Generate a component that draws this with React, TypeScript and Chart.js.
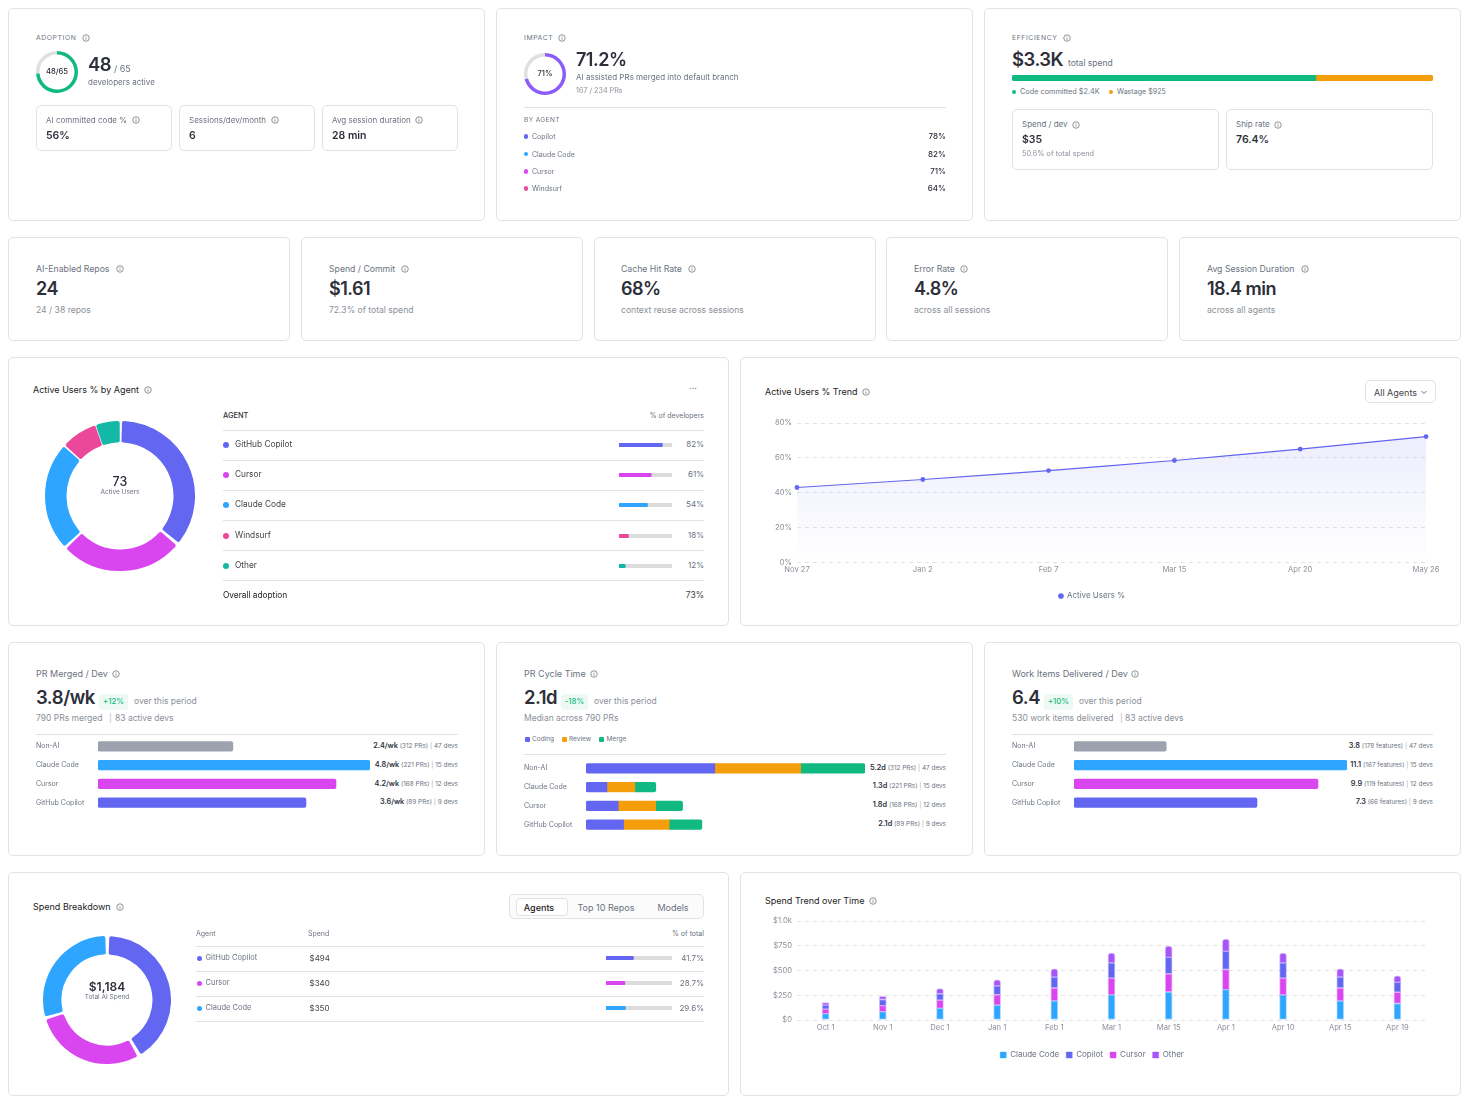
import React, { useEffect, useRef } from "react";
import { Chart, registerables } from "chart.js";

Chart.register(...registerables);
Chart.defaults.font.family = "Inter";

const INK = "#2d2f3a", GREY = "#6b7280", SOFT = "#8b9099", LINE = "#e2e2e2", TRACK = "#dcdcdc";
const COPILOT = "#6366f1", CURSOR = "#d946ef", CLAUDE = "#2ea6ff", WINDSURF = "#ec4899", TEAL = "#14b8a6";
const VIOLET = "#a855f7", GREEN = "#10b981", AMBER = "#f59e0b", NONAI = "#9ca3af", GAUGE = "#8b5cf6";

const adoptionGauge = [48, 17];
const impactGauge = [71.2, 28.8];
const spendSplit = [2400, 925];

const impactAgents = ["Copilot", "Claude Code", "Cursor", "Windsurf"];
const impactValues = ["78%", "82%", "71%", "64%"];
const impactColors = [COPILOT, CLAUDE, CURSOR, WINDSURF];

const activeAgents = ["GitHub Copilot", "Cursor", "Claude Code", "Windsurf", "Other"];
const activeValues = [82, 61, 54, 18, 12];
const activeColors = [COPILOT, CURSOR, CLAUDE, WINDSURF, TEAL];

const trendLabels = ["Nov 27", "Jan 2", "Feb 7", "Mar 15", "Apr 20", "May 26"];
const trendValues = [43, 47.6, 52.7, 58.5, 65, 72.2];

const rowAgents = ["Non-AI", "Claude Code", "Cursor", "GitHub Copilot"];
const prBars = [2.38, 4.8, 4.2, 3.67];
const prBarColors = [NONAI, CLAUDE, CURSOR, COPILOT];
const prMain = ["2.4/wk", "4.8/wk", "4.2/wk", "3.6/wk"];
const prMid = ["(312 PRs)", "(221 PRs)", "(168 PRs)", "(89 PRs)"];
const devCounts = ["47 devs", "15 devs", "12 devs", "9 devs"];

const cycleCoding = [2.4, 0.39, 0.6, 0.7];
const cycleReview = [1.6, 0.52, 0.7, 0.85];
const cycleMerge = [1.2, 0.39, 0.5, 0.61];
const cycleMain = ["5.2d", "1.3d", "1.8d", "2.1d"];

const workBars = [3.75, 11.1, 9.92, 7.44];
const workMain = ["3.8", "11.1", "9.9", "7.3"];
const workMid = ["(178 features)", "(167 features)", "(119 features)", "(66 features)"];

const spendAgents = ["GitHub Copilot", "Cursor", "Claude Code"];
const spendValues = [494, 340, 350];
const spendPct = [41.7, 28.7, 29.6];
const spendColors = [COPILOT, CURSOR, CLAUDE];

const spendMonths = ["Oct 1", "Nov 1", "Dec 1", "Jan 1", "Feb 1", "Mar 1", "Mar 15", "Apr 1", "Apr 10", "Apr 15", "Apr 19"];
const spendClaude = [65, 85, 117, 150, 193, 253, 283, 307, 253, 193, 167];
const spendCursor = [45, 60, 83, 105, 130, 170, 184, 203, 170, 130, 113];
const spendCopilot = [40, 62, 65, 90, 110, 154, 166, 183, 154, 110, 100];
const spendOther = [27, 33, 52, 62, 84, 100, 114, 124, 100, 84, 67];

function Plot({ x, y, w, h, config }: any) {
  const ref = useRef<HTMLCanvasElement>(null);
  useEffect(() => {
    const c = new Chart(ref.current as any, config);
    return () => c.destroy();
  }, []);
  return <canvas ref={ref} width={w} height={h} style={{ position: "absolute", left: x, top: y, width: w, height: h }} />;
}

function T({ x, y, right, center, size = 8, color = GREY, weight = 400, ls, children }: any) {
  const s: any = {
    position: "absolute", top: y, fontSize: size, color, fontWeight: weight, whiteSpace: "nowrap",
    lineHeight: 1, letterSpacing: ls, transform: center != null ? "translate(-50%,-50%)" : "translateY(-50%)",
  };
  if (right != null) s.right = 1467 - right;
  else if (center != null) s.left = center;
  else s.left = x;
  return <div style={s}>{children}</div>;
}

function Box({ x, y, x2, y2, r = 5, color = LINE, bg = "#fff" }: any) {
  return <div style={{ position: "absolute", left: x, top: y, width: x2 - x, height: y2 - y, boxSizing: "border-box", border: `1px solid ${color}`, borderRadius: r, background: bg }} />;
}

function Rule({ x, x2, y }: any) {
  return <div style={{ position: "absolute", left: x, top: y, width: x2 - x, height: 1, background: "#e3e3e3" }} />;
}

function Dot({ x, y, d = 5, color, square }: any) {
  return <div style={{ position: "absolute", left: x - d / 2, top: y - d / 2, width: d, height: d, borderRadius: square ? 1 : "50%", background: color }} />;
}

function Info({ x, y, d = 8 }: any) {
  return (
    <svg width={d} height={d} viewBox="0 0 16 16" style={{ position: "absolute", left: x - d / 2, top: y - d / 2 }}>
      <circle cx="8" cy="8" r="6.5" fill="none" stroke="#666" strokeWidth="1.4" />
      <line x1="8" y1="7" x2="8" y2="11.5" stroke="#666" strokeWidth="1.4" />
      <circle cx="8" cy="4.8" r="0.9" fill="#666" />
    </svg>
  );
}

const quiet = { legend: { display: false }, tooltip: { enabled: false } };

function ring(data: number[], colors: string[], cut: number, spacing = 0, radius = 0) {
  return {
    type: "doughnut",
    data: { datasets: [{ data, backgroundColor: colors, borderWidth: 0, spacing, borderRadius: radius }] },
    options: { responsive: false, animation: false, cutout: cut, plugins: quiet, layout: { padding: 0 } },
  };
}

function mini(value: number, color: string) {
  return {
    type: "bar",
    data: {
      labels: [""],
      datasets: [
        { data: [value], backgroundColor: color, order: 0, borderRadius: 2, borderSkipped: false },
        { data: [100], backgroundColor: TRACK, order: 1, borderRadius: 2, borderSkipped: false },
      ],
    },
    options: {
      indexAxis: "y", responsive: false, animation: false, plugins: quiet,
      datasets: { bar: { grouped: false, barPercentage: 1, categoryPercentage: 1 } },
      scales: { x: { display: false, min: 0, max: 100 }, y: { display: false } },
    },
  };
}

function hbars(datasets: any[], labels: string[], max: number, thick: number) {
  return {
    type: "bar",
    data: { labels, datasets: datasets.map((d) => ({ barThickness: thick, ...d })) },
    options: {
      indexAxis: "y", responsive: false, animation: false, plugins: quiet, layout: { padding: 0 },
      scales: {
        x: { display: false, min: 0, max, stacked: true },
        y: {
          stacked: true, grid: { display: false }, border: { display: false },
          ticks: { crossAlign: "far", padding: 0, color: GREY, font: { size: 7 }, autoSkip: false },
          afterFit: (s: any) => { s.width = 62; s.paddingTop = 0; s.paddingBottom = 0; },
        },
      },
    },
  };
}

const splitConfig = {
  type: "bar",
  data: {
    labels: [""],
    datasets: [
      { data: [spendSplit[0]], backgroundColor: GREEN, borderSkipped: false, borderRadius: { topLeft: 3, bottomLeft: 3 } },
      { data: [spendSplit[1]], backgroundColor: AMBER, borderSkipped: false, borderRadius: { topRight: 3, bottomRight: 3 } },
    ],
  },
  options: {
    indexAxis: "y", responsive: false, animation: false, plugins: quiet,
    datasets: { bar: { barPercentage: 1, categoryPercentage: 1 } },
    scales: { x: { display: false, stacked: true, min: 0, max: spendSplit[0] + spendSplit[1] }, y: { display: false, stacked: true } },
  },
};

const axisX = (height: number) => ({
  grid: { display: false, drawTicks: false }, border: { display: false },
  ticks: { color: SOFT, font: { size: 7.6 }, maxRotation: 0, autoSkip: false, padding: 3 },
  afterFit: (s: any) => { s.height = height; s.paddingLeft = 0; s.paddingRight = 0; },
});
const axisY = (extra: any, tick: any) => ({
  ...extra,
  grid: { color: "#e4e4e4", drawTicks: false },
  border: { display: false, dash: [4, 4] },
  ticks: { ...extra.ticks, color: SOFT, font: { size: 7.6 }, padding: 5, callback: tick },
  afterFit: (s: any) => { s.width = 39; s.paddingTop = 0; s.paddingBottom = 0; },
});

const trendConfig = {
  type: "line",
  data: {
    labels: trendLabels,
    datasets: [{
      label: "Active Users %", data: trendValues, borderColor: COPILOT, borderWidth: 1.2, tension: 0.1,
      pointRadius: 2.4, pointBackgroundColor: COPILOT, pointBorderWidth: 0, fill: "origin",
      backgroundColor: (c: any) => {
        const a = c.chart.chartArea;
        if (!a) return "transparent";
        const g = c.chart.ctx.createLinearGradient(0, a.top, 0, a.bottom);
        g.addColorStop(0, "rgba(99,102,241,0.13)");
        g.addColorStop(1, "rgba(99,102,241,0)");
        return g;
      },
    }],
  },
  options: {
    responsive: false, animation: false, layout: { padding: { top: 10, right: 14, left: 0, bottom: 0 } },
    plugins: {
      tooltip: { enabled: false },
      legend: {
        position: "bottom",
        labels: {
          usePointStyle: true, boxWidth: 4, boxHeight: 4, padding: 14.5, color: GREY, font: { size: 8 },
          generateLabels: (ch: any) => (Chart.defaults.plugins.legend.labels as any).generateLabels(ch).map((l: any) => ({ ...l, fillStyle: COPILOT, strokeStyle: COPILOT, lineWidth: 0 })),
        },
      },
    },
    scales: {
      x: axisX(15),
      y: axisY({ min: 0, max: 80, ticks: { stepSize: 20 } }, (v: number) => v + "%"),
    },
  },
};

const seg = (label: string, data: number[], color: string, radius: any = 0) => ({
  label, data, backgroundColor: color, borderColor: color + "66", borderWidth: 1, borderSkipped: false, borderRadius: radius, barThickness: 7,
});

const spendConfig = {
  type: "bar",
  data: {
    labels: spendMonths,
    datasets: [
      seg("Claude Code", spendClaude, CLAUDE),
      seg("Cursor", spendCursor, CURSOR),
      seg("Copilot", spendCopilot, COPILOT),
      seg("Other", spendOther, VIOLET, { topLeft: 3, topRight: 3 }),
    ],
  },
  options: {
    responsive: false, animation: false, layout: { padding: { top: 8, right: 14, left: 0, bottom: 0 } },
    plugins: {
      tooltip: { enabled: false },
      legend: {
        position: "bottom",
        labels: {
          boxWidth: 6, boxHeight: 6, padding: 7, color: GREY, font: { size: 8 },
          sort: (a: any, b: any) => [0, 2, 1, 3][a.datasetIndex] - [0, 2, 1, 3][b.datasetIndex],
        },
      },
    },
    scales: {
      x: { ...axisX(24), stacked: true },
      y: axisY({ min: 0, max: 1000, stacked: true, ticks: { stepSize: 250 } }, (v: number) => (v === 1000 ? "$1.0k" : "$" + v)),
    },
  },
};

function Row3Text({ right, y, main, mid, dev }: any) {
  return (
    <T right={right} y={y} size={6.4} color={GREY}>
      <span style={{ fontSize: 7.3, fontWeight: 600, color: INK }}>{main}</span>
      <span> {mid} </span><span style={{ color: "#aaa" }}>|</span><span> {dev}</span>
    </T>
  );
}

function Head({ x, title, iconX, value, badge, badgeX, badgeW = 29, overX, sub }: any) {
  return (
    <>
      <T x={x} y={673} size={9} color={GREY}>{title}</T>
      <Info x={iconX} y={674} />
      <T x={x} y={697} size={18.5} ls={-0.5} weight={600} color={INK}>{value}</T>
      <div style={{ position: "absolute", left: badgeX, top: 694, width: badgeW, height: 15.5, borderRadius: 3, background: "#eef9f4" }} />
      <T center={badgeX + badgeW / 2} y={701.5} size={7.8} weight={500} color={GREEN}>{badge}</T>
      <T x={overX} y={701} size={8.5} color={SOFT}>over this period</T>
      {sub}
    </>
  );
}

function App() {
  return (
    <div style={{ position: "absolute", left: 0, top: 0, width: 1467, height: 1102, background: "#fff", overflow: "hidden", fontFamily: "Inter" }}>
      {/* row 1 */}
      <Box x={8} y={8} x2={485} y2={221} />
      <Box x={496} y={8} x2={973} y2={221} />
      <Box x={984} y={8} x2={1461} y2={221} />

      <T x={36} y={37.5} size={6.8} ls={0.6}>ADOPTION</T>
      <Info x={86} y={38} />
      <Plot x={36} y={51} w={42} h={42} config={ring(adoptionGauge, [GREEN, "#e0e0e0"], 17.5)} />
      <T center={57} y={72} size={7.6} weight={500} color={INK}>48/65</T>
      <T x={88} y={64} size={18.5} ls={-0.5} weight={600} color={INK}>48</T>
      <T x={114} y={68} size={9}>/ 65</T>
      <T x={88} y={82} size={8}>developers active</T>
      {[["AI committed code %", "56%", 36, 172, 136], ["Sessions/dev/month", "6", 179, 315, 275], ["Avg session duration", "28 min", 322, 458, 419]].map((b: any) => (
        <React.Fragment key={b[0]}>
          <Box x={b[2]} y={105} x2={b[3]} y2={151} />
          <T x={b[2] + 10} y={120} size={8}>{b[0]}</T>
          <Info x={b[4]} y={120} />
          <T x={b[2] + 10} y={135.5} size={10.5} weight={600} color={INK}>{b[1]}</T>
        </React.Fragment>
      ))}

      <T x={524} y={37.5} size={6.8} ls={0.6}>IMPACT</T>
      <Info x={562} y={38} />
      <Plot x={524} y={53} w={42} h={42} config={ring(impactGauge, [GAUGE, "#e0e0e0"], 17.5)} />
      <T center={545} y={74} size={7.6} weight={500} color={INK}>71%</T>
      <T x={576} y={60} size={18} ls={-0.5} weight={600} color={INK}>71.2%</T>
      <T x={576} y={77} size={8}>AI assisted PRs merged into default branch</T>
      <T x={576} y={90.5} size={7.2} color={SOFT}>167 / 234 PRs</T>
      <Rule x={524} x2={946} y={107} />
      <T x={524} y={119.5} size={6.5} ls={0.4}>BY AGENT</T>
      {impactAgents.map((a, i) => {
        const y = [136, 153.5, 171, 188][i];
        return (
          <React.Fragment key={a}>
            <Dot x={526} y={y + 0.5} d={4.5} color={impactColors[i]} />
            <T x={532} y={y} size={7}>{a}</T>
            <T right={946} y={y} size={8} weight={500} color={INK}>{impactValues[i]}</T>
          </React.Fragment>
        );
      })}

      <T x={1012} y={37.5} size={6.8} ls={0.6}>EFFICIENCY</T>
      <Info x={1067} y={38} />
      <T x={1012} y={59} size={18.5} ls={-0.5} weight={600} color={INK}>$3.3K</T>
      <T x={1068} y={63} size={8.5}>total spend</T>
      <Plot x={1012} y={75} w={421} h={6} config={splitConfig} />
      <Dot x={1014} y={92} d={4.5} color={GREEN} />
      <T x={1020} y={91.5} size={7.3}>Code committed $2.4K</T>
      <Dot x={1111} y={92} d={4.5} color={AMBER} />
      <T x={1117} y={91.5} size={7.1}>Wastage $925</T>
      <Box x={1012} y={109} x2={1219} y2={170} />
      <T x={1022} y={124} size={8}>Spend / dev</T>
      <Info x={1076} y={124.5} />
      <T x={1022} y={139.5} size={10.5} weight={600} color={INK}>$35</T>
      <T x={1022} y={154} size={7.3} color={SOFT}>50.6% of total spend</T>
      <Box x={1226} y={109} x2={1433} y2={170} />
      <T x={1236} y={124} size={8}>Ship rate</T>
      <Info x={1278} y={124.5} />
      <T x={1236} y={139.5} size={10.5} weight={600} color={INK}>76.4%</T>

      {/* row 2 */}
      {[[8, 290, "AI-Enabled Repos", 120, "24", "24 / 38 repos", 36], [301, 583, "Spend / Commit", 405, "$1.61", "72.3% of total spend", 329], [594, 876, "Cache Hit Rate", 692, "68%", "context reuse across sessions", 621], [886, 1168, "Error Rate", 964, "4.8%", "across all sessions", 914], [1179, 1461, "Avg Session Duration", 1305, "18.4 min", "across all agents", 1207]].map((c: any) => (
        <React.Fragment key={c[2]}>
          <Box x={c[0]} y={237} x2={c[1]} y2={341} />
          <T x={c[6]} y={268.5} size={8.7}>{c[2]}</T>
          <Info x={c[3]} y={268.5} />
          <T x={c[6]} y={288.5} size={18} ls={-0.5} weight={600} color={INK}>{c[4]}</T>
          <T x={c[6]} y={310} size={8.6} color={SOFT}>{c[5]}</T>
        </React.Fragment>
      ))}

      {/* row 3 */}
      <Box x={8} y={357} x2={729} y2={626} />
      <T x={33} y={388.5} size={9} color="#222">Active Users % by Agent</T>
      <Info x={147.5} y={389.5} />
      <T center={693} y={388} size={9} color={GREY}>···</T>
      <Plot x={45} y={421} w={150} h={150} config={ring(activeValues, activeColors, 52, 3, 2)} />
      <T center={120} y={482} size={12.5} weight={500} color={INK}>73</T>
      <T center={120} y={492} size={6.5}>Active Users</T>
      <T x={223} y={415.5} size={7.4} weight={500} color="#333">AGENT</T>
      <T right={704} y={415} size={7} color={GREY}>% of developers</T>
      {[430, 460, 490, 520, 550, 580].map((y) => <Rule key={y} x={223} x2={704} y={y} />)}
      {activeAgents.map((a, i) => {
        const y = [444, 474, 504, 535, 565][i];
        return (
          <React.Fragment key={a}>
            <Dot x={226} y={y + 0.5} d={6} color={activeColors[i]} />
            <T x={235} y={y} size={8.3} color="#444">{a}</T>
            <Plot x={619} y={y - 1} w={53} h={4} config={mini(activeValues[i], activeColors[i])} />
            <T right={704} y={y} size={8}>{activeValues[i]}%</T>
          </React.Fragment>
        );
      })}
      <T x={223} y={595} size={8.3} color="#222">Overall adoption</T>
      <T right={704} y={595} size={8.5} color="#444">73%</T>

      <Box x={740} y={357} x2={1461} y2={626} />
      <T x={765} y={391} size={9} color="#222">Active Users % Trend</T>
      <Info x={866} y={392} />
      <Box x={1365} y={380} x2={1436} y2={403} />
      <T x={1374} y={391.5} size={9} color="#444">All Agents</T>
      <svg width="8" height="8" viewBox="0 0 8 8" style={{ position: "absolute", left: 1420, top: 388 }}>
        <path d="M1.5 3 L4 5.5 L6.5 3" fill="none" stroke="#666" strokeWidth="0.9" />
      </svg>
      <Plot x={758} y={413} w={682} h={197} config={trendConfig} />

      {/* row 4 */}
      <Box x={8} y={642} x2={485} y2={856} />
      <Head x={36} title="PR Merged / Dev" iconX={116} value="3.8/wk" badge="+12%" badgeX={99} overX={134}
        sub={<><T x={36} y={718} size={8.5} color={SOFT}>790 PRs merged</T><T x={109} y={718} size={8.5} color="#bbb">|</T><T x={115} y={718} size={8.5} color={SOFT}>83 active devs</T></>} />
      <Rule x={36} x2={458} y={734} />
      <Plot x={36} y={737} w={334} h={75} config={hbars([{ data: prBars, backgroundColor: prBarColors, borderRadius: 2, borderSkipped: false }], rowAgents, 4.8, 9.5)} />
      {rowAgents.map((a, i) => <Row3Text key={a} right={458} y={[746, 765, 784, 802][i]} main={prMain[i]} mid={prMid[i]} dev={devCounts[i]} />)}

      <Box x={496} y={642} x2={973} y2={856} />
      <Head x={524} title="PR Cycle Time" iconX={594} value="2.1d" badge="-18%" badgeX={561} badgeW={27} overX={594}
        sub={<T x={524} y={718} size={8.5} color={SOFT}>Median across 790 PRs</T>} />
      <Dot x={527} y={739} d={5} color={COPILOT} square />
      <T x={532} y={738.5} size={6.5}>Coding</T>
      <Dot x={564} y={739} d={5} color={AMBER} square />
      <T x={569} y={738.5} size={6.5}>Review</T>
      <Dot x={601} y={739} d={5} color={GREEN} square />
      <T x={606.5} y={738.5} size={6.5}>Merge</T>
      <Rule x={524} x2={946} y={754} />
      <Plot x={524} y={758.5} w={341} h={75} config={hbars([
        { data: cycleCoding, backgroundColor: COPILOT, borderSkipped: false, borderRadius: { topLeft: 2, bottomLeft: 2 } },
        { data: cycleReview, backgroundColor: AMBER },
        { data: cycleMerge, backgroundColor: GREEN, borderSkipped: false, borderRadius: { topRight: 2, bottomRight: 2 } },
      ], rowAgents, 5.2, 9.5)} />
      {rowAgents.map((a, i) => <Row3Text key={a} right={946} y={[768, 786, 805, 824][i]} main={cycleMain[i]} mid={prMid[i]} dev={devCounts[i]} />)}

      <Box x={984} y={642} x2={1461} y2={856} />
      <Head x={1012} title="Work Items Delivered / Dev" iconX={1135} value="6.4" badge="+10%" badgeX={1044} overX={1079}
        sub={<><T x={1012} y={718} size={8.5} color={SOFT}>530 work items delivered</T><T x={1120} y={718} size={8.5} color="#bbb">|</T><T x={1125} y={718} size={8.5} color={SOFT}>83 active devs</T></>} />
      <Rule x={1012} x2={1433} y={734} />
      <Plot x={1012} y={737} w={335} h={75} config={hbars([{ data: workBars, backgroundColor: prBarColors, borderRadius: 2, borderSkipped: false }], rowAgents, 11.1, 9.5)} />
      {rowAgents.map((a, i) => <Row3Text key={a} right={1433} y={[746, 765, 784, 802][i]} main={workMain[i]} mid={workMid[i]} dev={devCounts[i]} />)}

      {/* row 5 */}
      <Box x={8} y={872} x2={729} y2={1096} />
      <T x={33} y={905.5} size={9} color="#222">Spend Breakdown</T>
      <Info x={120} y={906.5} />
      <Box x={509} y={894} x2={704} y2={919} bg="#fbfbfb" />
      <Box x={516} y={898} x2={568} y2={916} r={4} />
      <T center={539} y={906.5} size={9} weight={500} color="#222">Agents</T>
      <T center={606} y={906.5} size={9}>Top 10 Repos</T>
      <T center={673} y={906.5} size={9}>Models</T>
      <Plot x={43} y={936} w={128} h={128} config={ring(spendValues, spendColors, 44, 3, 2)} />
      <T center={107} y={987} size={12} weight={600} color={INK}>$1,184</T>
      <T center={107} y={997} size={6.5}>Total AI Spend</T>
      <T x={196} y={933} size={7}>Agent</T>
      <T x={308} y={933} size={7}>Spend</T>
      <T right={704} y={933} size={7}>% of total</T>
      {[946, 971, 996, 1021].map((y) => <Rule key={y} x={196} x2={704} y={y} />)}
      {spendAgents.map((a, i) => {
        const y = [958, 983, 1008][i];
        return (
          <React.Fragment key={a}>
            <Dot x={199} y={y + 0.5} d={5} color={spendColors[i]} />
            <T x={205.5} y={y} size={7.5}>{a}</T>
            <T x={309.5} y={y} size={8} color="#444">${spendValues[i]}</T>
            <Plot x={606} y={y - 2} w={66} h={4} config={mini(spendPct[i], spendColors[i])} />
            <T right={704} y={y} size={8}>{spendPct[i]}%</T>
          </React.Fragment>
        );
      })}

      <Box x={740} y={872} x2={1461} y2={1096} />
      <T x={765} y={899.5} size={9} color="#222">Spend Trend over Time</T>
      <Info x={872.5} y={900.5} />
      <Plot x={758} y={913} w={682} h={156} config={spendConfig} />
    </div>
  );
}

export default App;
